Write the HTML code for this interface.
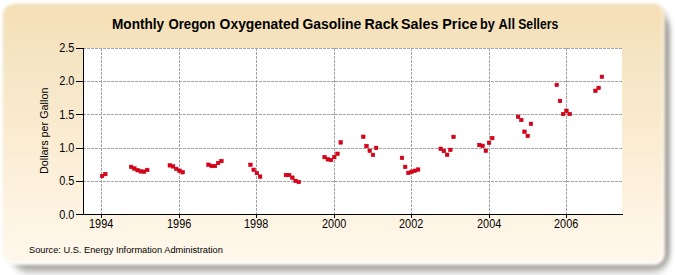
<!DOCTYPE html>
<html><head><meta charset="utf-8"><style>
html,body{margin:0;padding:0;background:#fff;width:675px;height:275px;overflow:hidden}
#box{position:absolute;left:3px;top:4px;width:662px;height:261px;border-radius:12px;
background:linear-gradient(to bottom,#F5DEB5 0%,#F5DFB6 3%,#F4E5C4 22%,#FAEBD0 48.5%,#FFF6E8 90%,#FFF7EA 100%);
box-shadow:inset 0 -5px 2px -2px rgba(255,255,255,1), inset -5px 0 2px -2px rgba(255,255,255,0.4), 0 0 1px 0 rgba(90,90,70,0.35);filter:blur(1.8px)}
svg{position:absolute;left:0;top:0}
text{font-family:"Liberation Sans",sans-serif;fill:#000}
</style></head><body>
<svg width="675" height="275" style="position:absolute;left:0;top:0"><defs><filter id="sh" x="-10%" y="-10%" width="120%" height="120%"><feGaussianBlur stdDeviation="2.5 4"/></filter></defs><rect x="11" y="11" width="659" height="260" rx="18" fill="rgba(60,55,50,0.5)" filter="url(#sh)"/></svg><div id="box"></div>
<svg width="675" height="275" viewBox="0 0 675 275">
<rect x="84" y="48" width="538" height="166" fill="#fff"/>
<g stroke="#A4A4A4" stroke-width="1" stroke-dasharray="3 1" shape-rendering="crispEdges">
<g stroke-dashoffset="0">
<line x1="83" y1="48.5" x2="622" y2="48.5"/>
<line x1="83" y1="81.5" x2="622" y2="81.5"/>
<line x1="83" y1="114.5" x2="622" y2="114.5"/>
<line x1="83" y1="148.5" x2="622" y2="148.5"/>
<line x1="83" y1="181.5" x2="622" y2="181.5"/>
</g>
<line x1="101.5" y1="48" x2="101.5" y2="214"/>
<line x1="179.5" y1="48" x2="179.5" y2="214"/>
<line x1="256.5" y1="48" x2="256.5" y2="214"/>
<line x1="334.5" y1="48" x2="334.5" y2="214"/>
<line x1="411.5" y1="48" x2="411.5" y2="214"/>
<line x1="489.5" y1="48" x2="489.5" y2="214"/>
<line x1="566.5" y1="48" x2="566.5" y2="214"/>
</g>
<g stroke="#000" stroke-width="1" shape-rendering="crispEdges">
<line x1="83.5" y1="48" x2="83.5" y2="215"/>
<line x1="83" y1="214.5" x2="623" y2="214.5"/>
<line x1="76" y1="48.5" x2="83" y2="48.5"/>
<line x1="76" y1="81.5" x2="83" y2="81.5"/>
<line x1="76" y1="114.5" x2="83" y2="114.5"/>
<line x1="76" y1="148.5" x2="83" y2="148.5"/>
<line x1="76" y1="181.5" x2="83" y2="181.5"/>
<line x1="76" y1="214.5" x2="83" y2="214.5"/>
<line x1="101.5" y1="214" x2="101.5" y2="218"/>
<line x1="179.5" y1="214" x2="179.5" y2="218"/>
<line x1="256.5" y1="214" x2="256.5" y2="218"/>
<line x1="334.5" y1="214" x2="334.5" y2="218"/>
<line x1="411.5" y1="214" x2="411.5" y2="218"/>
<line x1="489.5" y1="214" x2="489.5" y2="218"/>
<line x1="566.5" y1="214" x2="566.5" y2="218"/>
</g>
<g fill="#DA0018" stroke="#C40014" stroke-width="0.5">
<rect x="100.30" y="174.22" width="3.6" height="3.6"/>
<rect x="103.52" y="172.23" width="3.6" height="3.6"/>
<rect x="129.32" y="165.12" width="3.6" height="3.6"/>
<rect x="132.54" y="166.72" width="3.6" height="3.6"/>
<rect x="135.77" y="168.38" width="3.6" height="3.6"/>
<rect x="138.99" y="169.57" width="3.6" height="3.6"/>
<rect x="142.22" y="169.90" width="3.6" height="3.6"/>
<rect x="145.44" y="168.18" width="3.6" height="3.6"/>
<rect x="168.01" y="163.53" width="3.6" height="3.6"/>
<rect x="171.24" y="164.59" width="3.6" height="3.6"/>
<rect x="174.46" y="167.11" width="3.6" height="3.6"/>
<rect x="177.69" y="168.91" width="3.6" height="3.6"/>
<rect x="180.91" y="170.43" width="3.6" height="3.6"/>
<rect x="206.71" y="162.93" width="3.6" height="3.6"/>
<rect x="209.93" y="164.19" width="3.6" height="3.6"/>
<rect x="213.16" y="164.19" width="3.6" height="3.6"/>
<rect x="216.38" y="161.20" width="3.6" height="3.6"/>
<rect x="219.61" y="159.21" width="3.6" height="3.6"/>
<rect x="248.63" y="163.00" width="3.6" height="3.6"/>
<rect x="251.85" y="167.98" width="3.6" height="3.6"/>
<rect x="255.08" y="171.23" width="3.6" height="3.6"/>
<rect x="258.30" y="174.82" width="3.6" height="3.6"/>
<rect x="284.10" y="173.22" width="3.6" height="3.6"/>
<rect x="287.32" y="173.22" width="3.6" height="3.6"/>
<rect x="290.55" y="175.88" width="3.6" height="3.6"/>
<rect x="293.77" y="179.13" width="3.6" height="3.6"/>
<rect x="296.99" y="180.20" width="3.6" height="3.6"/>
<rect x="322.79" y="155.30" width="3.6" height="3.6"/>
<rect x="326.01" y="157.49" width="3.6" height="3.6"/>
<rect x="329.24" y="158.22" width="3.6" height="3.6"/>
<rect x="332.46" y="155.30" width="3.6" height="3.6"/>
<rect x="335.69" y="151.98" width="3.6" height="3.6"/>
<rect x="338.91" y="140.62" width="3.6" height="3.6"/>
<rect x="361.48" y="134.98" width="3.6" height="3.6"/>
<rect x="364.71" y="144.21" width="3.6" height="3.6"/>
<rect x="367.93" y="148.99" width="3.6" height="3.6"/>
<rect x="371.16" y="153.10" width="3.6" height="3.6"/>
<rect x="374.38" y="146.13" width="3.6" height="3.6"/>
<rect x="400.18" y="156.09" width="3.6" height="3.6"/>
<rect x="403.40" y="165.12" width="3.6" height="3.6"/>
<rect x="406.63" y="171.10" width="3.6" height="3.6"/>
<rect x="409.85" y="169.97" width="3.6" height="3.6"/>
<rect x="413.08" y="168.97" width="3.6" height="3.6"/>
<rect x="416.30" y="167.78" width="3.6" height="3.6"/>
<rect x="438.87" y="147.00" width="3.6" height="3.6"/>
<rect x="442.10" y="149.19" width="3.6" height="3.6"/>
<rect x="445.32" y="152.97" width="3.6" height="3.6"/>
<rect x="448.55" y="148.12" width="3.6" height="3.6"/>
<rect x="451.77" y="135.11" width="3.6" height="3.6"/>
<rect x="477.57" y="143.21" width="3.6" height="3.6"/>
<rect x="480.79" y="144.07" width="3.6" height="3.6"/>
<rect x="484.02" y="148.99" width="3.6" height="3.6"/>
<rect x="487.24" y="141.02" width="3.6" height="3.6"/>
<rect x="490.46" y="136.30" width="3.6" height="3.6"/>
<rect x="516.26" y="114.99" width="3.6" height="3.6"/>
<rect x="519.49" y="118.18" width="3.6" height="3.6"/>
<rect x="522.71" y="129.93" width="3.6" height="3.6"/>
<rect x="525.93" y="134.11" width="3.6" height="3.6"/>
<rect x="529.16" y="122.03" width="3.6" height="3.6"/>
<rect x="554.95" y="83.12" width="3.6" height="3.6"/>
<rect x="558.18" y="99.12" width="3.6" height="3.6"/>
<rect x="561.40" y="112.20" width="3.6" height="3.6"/>
<rect x="564.63" y="109.01" width="3.6" height="3.6"/>
<rect x="567.85" y="112.20" width="3.6" height="3.6"/>
<rect x="593.65" y="89.03" width="3.6" height="3.6"/>
<rect x="596.87" y="86.11" width="3.6" height="3.6"/>
<rect x="600.10" y="75.02" width="3.6" height="3.6"/>
</g>
<g font-size="12px">
<text x="74.4" y="52.1" text-anchor="end" textLength="15.2" lengthAdjust="spacingAndGlyphs">2.5</text>
<text x="74.4" y="85.0" text-anchor="end" textLength="15.2" lengthAdjust="spacingAndGlyphs">2.0</text>
<text x="74.4" y="118.9" text-anchor="end" textLength="15.2" lengthAdjust="spacingAndGlyphs">1.5</text>
<text x="74.4" y="152.0" text-anchor="end" textLength="15.2" lengthAdjust="spacingAndGlyphs">1.0</text>
<text x="74.4" y="185.0" text-anchor="end" textLength="15.2" lengthAdjust="spacingAndGlyphs">0.5</text>
<text x="74.4" y="219.1" text-anchor="end" textLength="15.2" lengthAdjust="spacingAndGlyphs">0.0</text>
<text x="101.17" y="228.3" text-anchor="middle" textLength="24.2" lengthAdjust="spacingAndGlyphs">1994</text>
<text x="179.17" y="228.3" text-anchor="middle" textLength="24.2" lengthAdjust="spacingAndGlyphs">1996</text>
<text x="256.17" y="228.3" text-anchor="middle" textLength="24.2" lengthAdjust="spacingAndGlyphs">1998</text>
<text x="334.17" y="228.3" text-anchor="middle" textLength="24.2" lengthAdjust="spacingAndGlyphs">2000</text>
<text x="411.17" y="228.3" text-anchor="middle" textLength="24.2" lengthAdjust="spacingAndGlyphs">2002</text>
<text x="489.17" y="228.3" text-anchor="middle" textLength="24.2" lengthAdjust="spacingAndGlyphs">2004</text>
<text x="566.17" y="228.3" text-anchor="middle" textLength="24.2" lengthAdjust="spacingAndGlyphs">2006</text>
</g>
<g font-weight="bold" font-size="14.5px">
<text x="112.06" y="29" textLength="52.08" lengthAdjust="spacingAndGlyphs">Monthly</text>
<text x="168.42" y="29" textLength="47.02" lengthAdjust="spacingAndGlyphs">Oregon</text>
<text x="219.58" y="29" textLength="79.63" lengthAdjust="spacingAndGlyphs">Oxygenated</text>
<text x="302.48" y="29" textLength="58.85" lengthAdjust="spacingAndGlyphs">Gasoline</text>
<text x="364.62" y="29" textLength="33.83" lengthAdjust="spacingAndGlyphs">Rack</text>
<text x="400.99" y="29" textLength="37.37" lengthAdjust="spacingAndGlyphs">Sales</text>
<text x="442.31" y="29" textLength="35.09" lengthAdjust="spacingAndGlyphs">Price</text>
<text x="480.03" y="29" textLength="14.78" lengthAdjust="spacingAndGlyphs">by</text>
<text x="498.54" y="29" textLength="16.45" lengthAdjust="spacingAndGlyphs">All</text>
<text x="518.21" y="29" textLength="40.06" lengthAdjust="spacingAndGlyphs">Sellers</text>
</g>
<text transform="translate(47.5,130.8) rotate(-90)" text-anchor="middle" font-size="11px" textLength="86.5" lengthAdjust="spacingAndGlyphs">Dollars per Gallon</text>
<text x="29" y="253" font-size="9.25px">Source: U.S. Energy Information Administration</text>
</svg>
</body></html>
